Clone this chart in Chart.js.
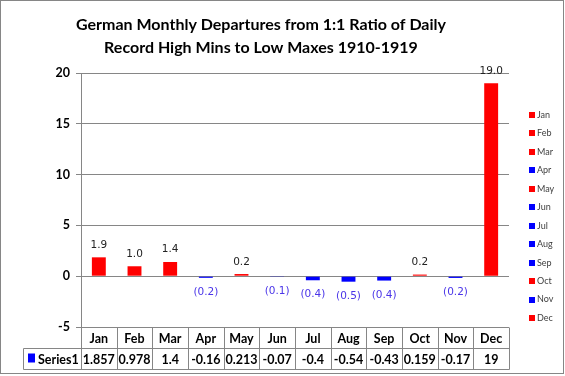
<!DOCTYPE html>
<html>
<head>
<meta charset="utf-8">
<script src="https://cdn.jsdelivr.net/npm/chart.js@4/dist/chart.umd.min.js"></script>
<style>
  html, body { margin: 0; padding: 0; background: #fff; }
  #wrap { width: 565px; height: 376px; }
</style>
</head>
<body>
<div id="wrap"><canvas id="chart" width="565" height="376"></canvas></div>
<script>
var titleLines = [
  "German Monthly Departures from 1:1 Ratio of Daily",
  "Record High Mins to Low Maxes 1910-1919"
];
var months = ["Jan", "Feb", "Mar", "Apr", "May", "Jun", "Jul", "Aug", "Sep", "Oct", "Nov", "Dec"];
var values = [1.857, 0.978, 1.4, -0.16, 0.213, -0.07, -0.4, -0.54, -0.43, 0.159, -0.17, 19];
var seriesName = "Series1";
var yMin = -5, yMax = 20, yStep = 5;

var RED = "#ff0000", BLUE = "#0000ff";
var GRID = "#868686";
var barColors = values.map(function (v) { return v < 0 ? BLUE : RED; });

function labelText(v) {
  return v < 0 ? "(" + Math.abs(v).toFixed(1) + ")" : v.toFixed(1);
}

// title, data labels, data table, legend, frame
var extras = {
  id: "extras",
  afterDraw: function (chart) {
    var ctx = chart.ctx;
    var area = chart.chartArea;
    var xs = chart.scales.x;
    ctx.save();

    // title
    ctx.fillStyle = "#000";
    ctx.font = "bold 16px Lato";
    ctx.textAlign = "center";
    ctx.textBaseline = "alphabetic";
    ctx.fillText(titleLines[0], 261, 30);
    ctx.fillText(titleLines[1], 261, 53);

    // data labels
    var meta = chart.getDatasetMeta(0);
    ctx.font = "10.5px 'DejaVu Sans'";
    meta.data.forEach(function (bar, i) {
      var v = values[i];
      if (v < 0) {
        ctx.fillStyle = "#4a35e8";
        ctx.textBaseline = "top";
        ctx.fillText(labelText(v), bar.x, bar.y + 9);
      } else {
        ctx.fillStyle = "#222";
        ctx.textBaseline = "bottom";
        ctx.fillText(labelText(v), bar.x, bar.y - 7);
      }
    });

    // data table
    var w = xs.getPixelForValue(1) - xs.getPixelForValue(0);
    var top = Math.round(area.bottom) + 0.5;
    var mid = top + 21;
    var bot = mid + 21;
    var leftCell = 23.5;
    ctx.strokeStyle = GRID;
    ctx.lineWidth = 1;
    ctx.beginPath();
    ctx.moveTo(leftCell, mid); ctx.lineTo(Math.round(area.right) + 0.5, mid);
    ctx.moveTo(leftCell, bot); ctx.lineTo(Math.round(area.right) + 0.5, bot);
    ctx.moveTo(leftCell, mid); ctx.lineTo(leftCell, bot);
    for (var i = 0; i <= months.length; i++) {
      var bx = Math.round(xs.getPixelForValue(i) - w / 2) + 0.5;
      ctx.moveTo(bx, top); ctx.lineTo(bx, bot);
    }
    ctx.stroke();

    ctx.fillStyle = "#000";
    ctx.font = "bold 12.5px Lato";
    ctx.textAlign = "center";
    ctx.textBaseline = "middle";
    months.forEach(function (m, i) {
      var cx = xs.getPixelForValue(i);
      ctx.fillText(m, cx, top + 11);
      ctx.fillText(String(values[i]), cx, mid + 11);
    });
    ctx.fillStyle = BLUE;
    ctx.fillRect(28, mid + 5, 7, 9);
    ctx.fillStyle = "#000";
    ctx.textAlign = "left";
    ctx.fillText(seriesName, 38, mid + 11);

    // legend
    ctx.font = "9px Lato";
    ctx.textBaseline = "middle";
    months.forEach(function (m, i) {
      var ly = 115 + i * 18.45;
      ctx.fillStyle = barColors[i];
      ctx.fillRect(529, Math.round(ly) - 3, 6, 6);
      ctx.fillStyle = "#404040";
      ctx.fillText(m, 537, ly);
    });

    // frame
    ctx.strokeStyle = GRID;
    ctx.strokeRect(0.5, 0.5, 563, 373);
    ctx.restore();
  }
};

var ctx = document.getElementById("chart").getContext("2d");
var chart = new Chart(ctx, {
  type: "bar",
  data: {
    labels: months,
    datasets: [
      {
        label: seriesName,
        data: values,
        backgroundColor: barColors,
        borderWidth: 0,
        categoryPercentage: 1,
        barPercentage: 0.39
      }
    ]
  },
  plugins: [extras],
  options: {
    responsive: false,
    animation: false,
    devicePixelRatio: 1,
    layout: { padding: { left: 0, top: 73, right: 56, bottom: 49 } },
    plugins: {
      legend: { display: false },
      title: { display: false },
      tooltip: { enabled: false }
    },
    scales: {
      x: {
        ticks: { display: false },
        grid: { display: false },
        border: { display: false },
        afterFit: function (scale) { scale.height = 0; }
      },
      y: {
        min: yMin,
        max: yMax,
        ticks: {
          stepSize: yStep,
          padding: 6,
          color: "#000",
          font: { family: "Lato", weight: "bold", size: 12.5 }
        },
        grid: { color: GRID, tickLength: 5 },
        border: { color: GRID },
        afterFit: function (scale) { scale.width = 81; }
      }
    }
  }
});
</script>
</body>
</html>
